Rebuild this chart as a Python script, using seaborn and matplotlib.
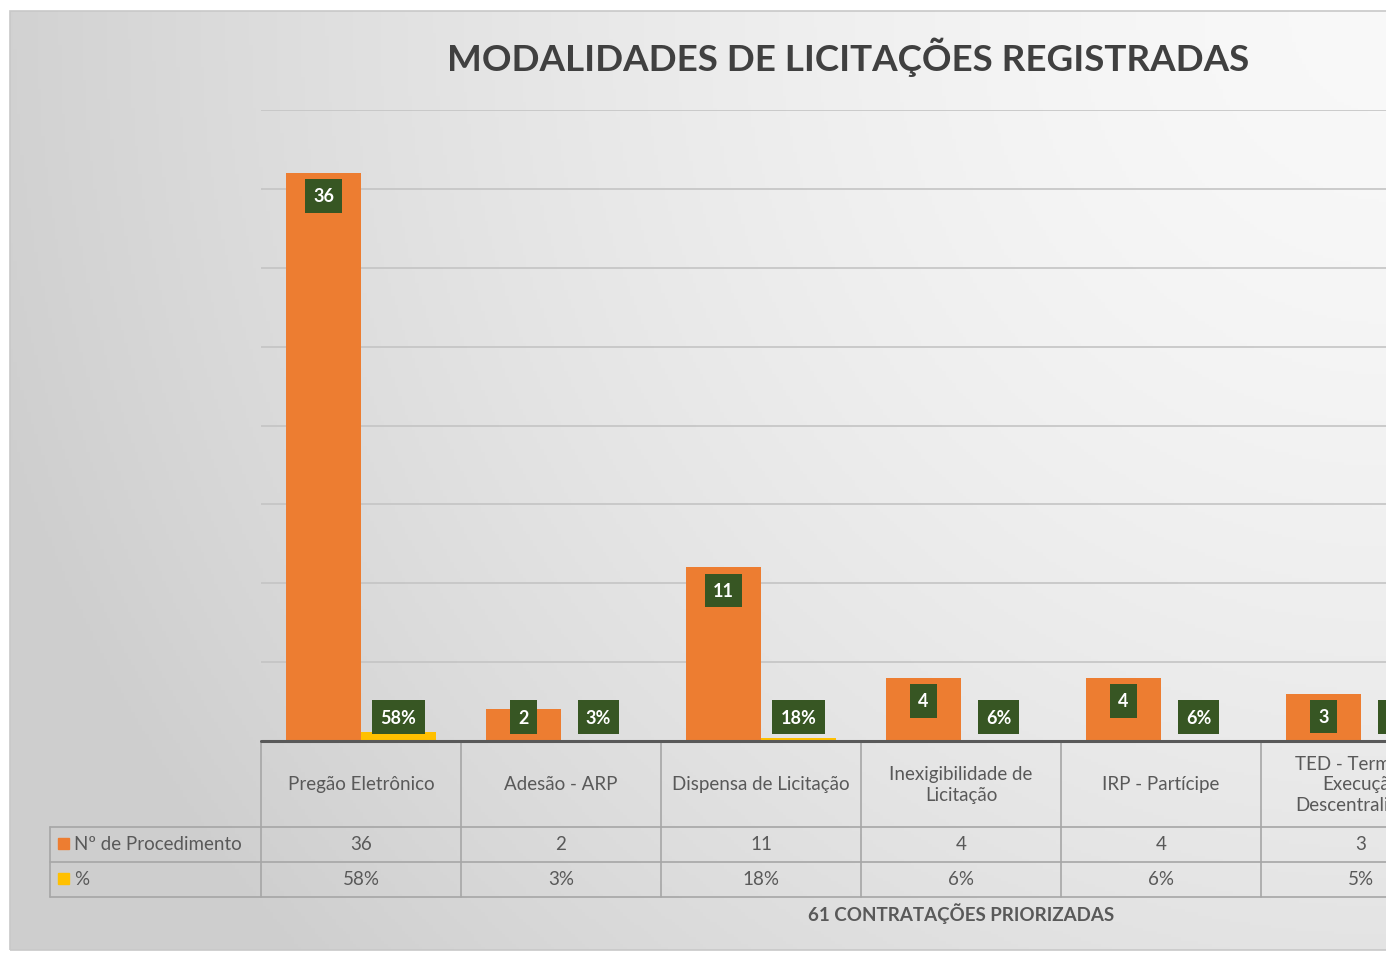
import numpy as np
import pandas as pd
import matplotlib.pyplot as plt
import matplotlib.transforms as mtransforms
from matplotlib.patches import Rectangle
import seaborn as sns

# dados
categorias = ["Pregão Eletrônico", "Adesão - ARP", "Dispensa de Licitação",
              "Inexigibilidade de\nLicitação", "IRP - Partícipe",
              "TED - Termo de\nExecução\nDescentralizada"]
procedimentos = [36, 2, 11, 4, 4, 3]
percentuais = [0.58, 0.03, 0.18, 0.06, 0.06, 0.05]
series = ["Nº de Procedimento", "%"]
titulo = "MODALIDADES DE LICITAÇÕES REGISTRADAS"
rotulo_x = "61 CONTRATAÇÕES PRIORIZADAS"

LARANJA = "#ED7D31"
AMARELO = "#FFC000"
VERDE = "#375623"
CINZA_TXT = "#595959"

df = pd.DataFrame({
    "categoria": categorias * 2,
    "serie": [series[0]] * len(categorias) + [series[1]] * len(categorias),
    "valor": procedimentos + percentuais,
})

sns.set_style("white")
plt.rcParams["font.family"] = ["Lato", "DejaVu Sans"]

W, H = 1386, 954
fig = plt.figure(figsize=(W / 100, H / 100), dpi=100)
fig.patch.set_facecolor("white")


def fx(px):
    return px / W


def fy(py):
    return 1 - py / H


# fundo com gradiente (moldura do gráfico do Excel)
bg = fig.add_axes([fx(10), fy(951), 1.0, fy(12) - fy(951)])
u = np.linspace(0, 1, 400)[None, :]
v = np.linspace(0, 1, 300)[:, None]
d = np.clip(np.sqrt(((1 - u) * 0.95) ** 2 + (v * 0.65) ** 2), 0, 1)
g = 0.975 - 0.165 * d ** 1.6
bg.imshow(np.dstack([g, g, g]), aspect="auto", extent=[0, 1, 1, 0])
bg.set_axis_off()
fig.add_artist(Rectangle((fx(10), fy(951)), 1.0, fy(12) - fy(951),
                         transform=fig.transFigure, fill=False,
                         edgecolor="#c8c8c8", lw=1.2))

# eixo principal: 7 colunas de 200 px, a partir de x=261
ax = fig.add_axes([fx(261), fy(742), 1400 / W, fy(111) - fy(742)])
ax.patch.set_alpha(0)
sns.barplot(data=df, x="categoria", y="valor", hue="serie",
            palette=[LARANJA, AMARELO], width=0.75, saturation=1,
            linewidth=0, legend=False, ax=ax, zorder=3)
ax.set_xlim(-0.5, 6.5)
ax.set_ylim(0, 40)
ax.set_yticks(np.arange(5, 41, 5))
ax.yaxis.grid(True, color="#c4c4c4", lw=1.2, zorder=0)
ax.set_axisbelow(True)
ax.set_xticks([])
ax.set_yticklabels([])
ax.tick_params(left=False, bottom=False)
ax.set_xlabel("")
ax.set_ylabel("")
for s in ax.spines.values():
    s.set_visible(False)

# rótulos de dados (caixas verdes)
for cont, fmt in zip(ax.containers, ["{:.0f}", "{:.0%}"]):
    for bar in cont:
        h = bar.get_height()
        xc = bar.get_x() + bar.get_width() / 2
        yl = max(h - 1.45, 1.52)
        ax.text(xc, yl, fmt.format(h), ha="center", va="center",
                color="white", fontsize=13, fontweight="bold", zorder=5,
                bbox=dict(boxstyle="square,pad=0.46", fc=VERDE, ec="none"))

# tabela de dados
tr = mtransforms.blended_transform_factory(ax.transData, fig.transFigure)
lc = "#a6a6a6"
fig.add_artist(plt.Line2D([fx(261), 1.0], [fy(742), fy(742)],
                          transform=fig.transFigure, color="#595959", lw=2.2))
for yy in [828, 863, 898]:
    fig.add_artist(plt.Line2D([fx(50), 1.0], [fy(yy), fy(yy)],
                              transform=fig.transFigure, color=lc, lw=1.2))
fig.add_artist(plt.Line2D([fx(50), fx(50)], [fy(828), fy(898)],
                          transform=fig.transFigure, color=lc, lw=1.2))
for i in range(len(categorias) + 2):
    ax.plot([i - 0.5, i - 0.5], [fy(742), fy(898)], transform=tr,
            color=lc, lw=1.2, clip_on=False)

for i, cat in enumerate(categorias):
    ax.text(i, fy(785), cat, transform=tr, ha="center", va="center",
            fontsize=13.5, color=CINZA_TXT, linespacing=1.25, clip_on=False)
    ax.text(i, fy(845), str(procedimentos[i]), transform=tr, ha="center",
            va="center", fontsize=13.5, color=CINZA_TXT)
    ax.text(i, fy(880), f"{percentuais[i]:.0%}", transform=tr, ha="center",
            va="center", fontsize=13.5, color=CINZA_TXT)

for nome, cor, yy in zip(series, [LARANJA, AMARELO], [845, 880]):
    fig.add_artist(Rectangle((fx(58), fy(yy + 5)), fx(11), fy(0) - fy(11),
                             transform=fig.transFigure, color=cor))
    fig.text(fx(74), fy(yy), nome, ha="left", va="center",
             fontsize=13.5, color=CINZA_TXT)

ax.text(3.0, fy(914), rotulo_x, transform=tr, ha="center", va="center",
        fontsize=13.5, fontweight="bold", color=CINZA_TXT)

fig.text(fx(848), fy(57), titulo, ha="center", va="center",
         fontsize=26.5, fontweight="bold", color="#404040")

fig.savefig("out.png", dpi=100)
